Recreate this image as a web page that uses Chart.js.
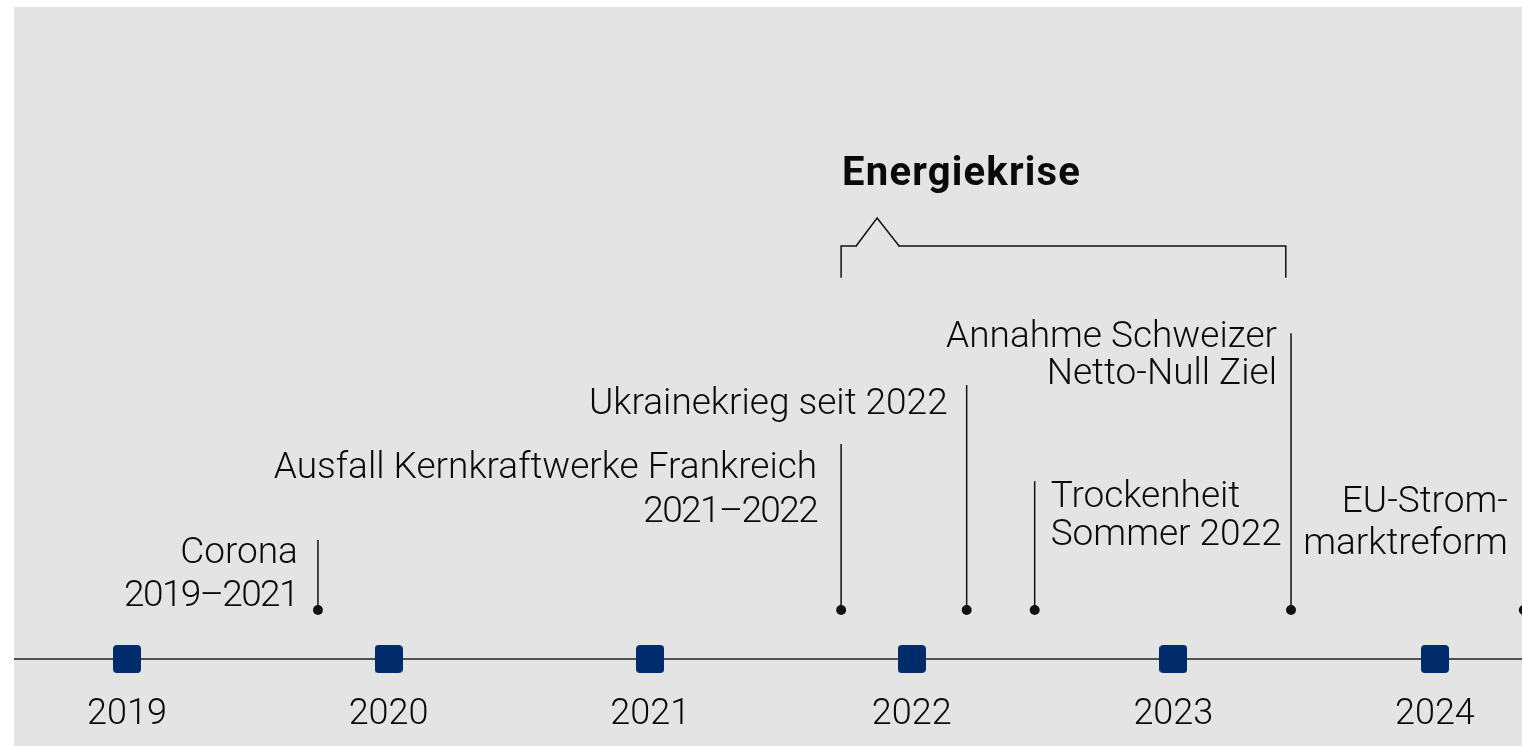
<!DOCTYPE html>
<html>
<head>
<meta charset="utf-8">
<script src="https://cdn.jsdelivr.net/npm/chart.js@4.4.1/dist/chart.umd.min.js"></script>
<style>
  html, body { margin: 0; padding: 0; background: #ffffff; }
  #wrap { position: absolute; left: 14px; top: 7px; width: 1508px; height: 739px; background: #e4e4e4; }
</style>
</head>
<body>
<div id="wrap"><canvas id="chart"></canvas></div>
<script>
// --- data ---
const years = [2019, 2020, 2021, 2022, 2023, 2024];
const eventYears = [2019.73, 2021.73, 2022.21, 2022.47, 2023.45, 2024.34];
const eventTops = [2.43, 4.39, 5.59, 3.63, 6.65, 3.6];   // leader height in timeline units
const eventLabels = [
    ['Corona', '2019–2021'],
    ['Ausfall Kernkraftwerke Frankreich', '2021–2022'],
    ['Ukrainekrieg seit 2022'],
    ['Trockenheit', 'Sommer 2022'],
    ['Annahme Schweizer', 'Netto-Null Ziel'],
    ['EU-Strom-', 'marktreform']
];
const crisisTitle = 'Energiekrise';
const crisisRange = [2021.73, 2023.43];
const crisisLevel = [7.78, 8.43];   // bracket foot / bracket bar

// label layout (px offsets from the top of each leader line)
const labelDx = [-20, -24, -19, 16, -14, -16];
const labelDy = [23, 34, 29, 26, 14, 29];
const labelGap = [43, 44, 0, 38, 37, 42];

const NAVY = '#002c6c';
const FONT = 'Roboto';

// rounded square used for the year markers
const yearMarker = document.createElement('canvas');
yearMarker.width = 28; yearMarker.height = 28;
(function () {
    const c = yearMarker.getContext('2d');
    c.fillStyle = NAVY;
    c.beginPath();
    c.roundRect(0, 0, 28, 28, 4);
    c.fill();
})();

const datasets = [];
// leader lines
eventYears.forEach((yr, i) => {
    datasets.push({
        type: 'line',
        data: [{ x: yr, y: 1 }, { x: yr, y: eventTops[i] }],
        borderColor: '#111',
        borderWidth: 1.5,
        pointRadius: [5, 0],
        pointBackgroundColor: '#111',
        pointBorderWidth: 0
    });
});
// year markers
datasets.push({
    type: 'scatter',
    data: years.map(y => ({ x: y, y: 0 })),
    pointStyle: yearMarker,
    pointRadius: 14
});
// bracket for Energiekrise
datasets.push({
    type: 'line',
    data: [
        { x: crisisRange[0], y: crisisLevel[0] },
        { x: crisisRange[0], y: crisisLevel[1] },
        { x: crisisRange[1], y: crisisLevel[1] },
        { x: crisisRange[1], y: crisisLevel[0] }
    ],
    borderColor: '#111',
    borderWidth: 1.5,
    pointRadius: 0
});

// timeline baseline, notch in bracket, labels
const decor = {
    id: 'decor',
    beforeDatasetsDraw(chart) {
        const { ctx, chartArea, scales: { y } } = chart;
        ctx.save();
        ctx.strokeStyle = '#222';
        ctx.lineWidth = 1.5;
        const y0 = y.getPixelForValue(0);
        ctx.beginPath();
        ctx.moveTo(chartArea.left, y0);
        ctx.lineTo(chartArea.right, y0);
        ctx.stroke();
        ctx.restore();
    },
    afterDatasetsDraw(chart) {
        const { ctx, scales: { x, y } } = chart;
        ctx.save();
        // notch on bracket
        const bx = x.getPixelForValue(crisisRange[0]);
        const by = y.getPixelForValue(crisisLevel[1]);
        ctx.fillStyle = '#e4e4e4';
        ctx.fillRect(bx + 16, by - 2, 41, 4);
        ctx.strokeStyle = '#111';
        ctx.lineWidth = 1.5;
        ctx.beginPath();
        ctx.moveTo(bx + 15, by);
        ctx.lineTo(bx + 36, by - 28);
        ctx.lineTo(bx + 58, by);
        ctx.stroke();
        // title
        ctx.fillStyle = '#0a0a0a';
        ctx.font = 'bold 40px ' + FONT;
        ctx.letterSpacing = '1.2px';
        ctx.textAlign = 'left';
        ctx.textBaseline = 'alphabetic';
        ctx.fillText(crisisTitle, bx + 1, by - 61);
        // event labels (digits in the original face are narrower)
        ctx.font = '300 37px ' + FONT;
        eventLabels.forEach((lines, i) => {
            const px = x.getPixelForValue(eventYears[i]);
            const top = y.getPixelForValue(eventTops[i]);
            ctx.textAlign = labelDx[i] > 0 ? 'left' : 'right';
            lines.forEach((t, j) => {
                const digits = (t.match(/[0-9–]/g) || []).length;
                ctx.letterSpacing = digits > 5 ? '-1.6px' : '0px';
                ctx.fillText(t, px + labelDx[i], top + labelDy[i] + j * labelGap[i]);
            });
        });
        ctx.restore();
    }
};

new Chart(document.getElementById('chart'), {
    data: { datasets },
    options: {
        responsive: true,
        maintainAspectRatio: false,
        animation: false,
        layout: { padding: 0, autoPadding: false },
        plugins: { legend: { display: false }, tooltip: { enabled: false } },
        scales: {
            x: {
                type: 'linear',
                min: 2018.568,
                max: 2024.333,
                afterBuildTicks: (axis) => { axis.ticks = years.map(v => ({ value: v })); },
                afterFit: (axis) => { axis.height = 59; },
                grid: { display: false },
                border: { display: false },
                ticks: {
                    color: '#0a0a0a',
                    font: { family: FONT, size: 36, weight: '300' },
                    padding: -2,
                    callback: v => String(v)
                }
            },
            y: {
                display: false,
                min: -0.571,
                max: 13.306
            }
        }
    },
    plugins: [decor]
});
</script>
</body>
</html>
